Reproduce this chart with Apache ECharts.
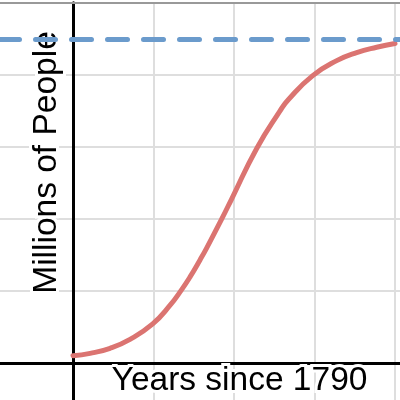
<!DOCTYPE html>
<html>
<head>
<meta charset="utf-8">
<script src="https://cdn.jsdelivr.net/npm/echarts@6/dist/echarts.min.js"></script>
<style>
  html, body { margin: 0; padding: 0; background: #fff; }
  #chart { width: 400px; height: 400px; }
</style>
</head>
<body>
<div id="chart"></div>
<script>
  // years since 1790 and population (millions)
  const years = [0, 10.6, 23, 35.4, 49.5, 60.2, 67.5, 72.7, 78.9, 83, 92.4, 98.6, 114.1, 128.6, 133.7, 148.9, 163.8, 176.2, 188.6, 200];
  const population = [5.3, 6.9, 10.4, 16.6, 27.3, 40.1, 51.1, 59.9, 71.7, 79.9, 100.1, 114.1, 149.0, 175.1, 182.8, 199.5, 209.9, 215.5, 219.2, 221.8];
  // carrying capacity (the dashed line)
  const capacity = 225;
  const xTitle = 'Years since 1790';
  const yTitle = 'Millions of People';

  const points = years.map((x, i) => [x, population[i]]);
  const font = '33.5px "Liberation Sans", Arial, sans-serif';

  // hidden axis, only line + grid
  function valueAxis(extra) {
    return Object.assign({
      type: 'value',
      min: -50,
      max: 250,
      interval: 50,
      axisTick: { show: false },
      axisLabel: { show: false },
      axisLine: { show: true, onZero: true, lineStyle: { color: '#000', width: 3 } },
      splitLine: { show: true, lineStyle: { color: '#dedede', width: 2 } }
    }, extra);
  }

  const chart = echarts.init(document.getElementById('chart'));
  chart.setOption({
    animation: false,
    grid: { left: -7.5, right: -75.5, top: 2.8, bottom: -35.4, outerBoundsMode: 'none' },
    xAxis: [
      valueAxis(),
      // gray border line along the top
      valueAxis({
        position: 'top',
        axisLine: { show: true, onZero: false, lineStyle: { color: '#999', width: 2 } },
        splitLine: { show: false }
      })
    ],
    yAxis: valueAxis(),
    graphic: [
      {
        type: 'text', x: 47, y: 162.5, rotation: Math.PI / 2, z: 1,
        style: { text: yTitle, font: font, fill: '#000', align: 'center', verticalAlign: 'middle',
                 stroke: '#fff', lineWidth: 6, strokeFirst: true }
      },
      {
        type: 'text', x: 239.5, y: 380.5, z: 1,
        style: { text: xTitle, font: font, fill: '#000', align: 'center', verticalAlign: 'middle',
                 stroke: '#fff', lineWidth: 6, strokeFirst: true }
      }
    ],
    series: [{
      type: 'line',
      xAxisIndex: 0,
      z: 3,
      data: points,
      smooth: 0.5,
      symbol: 'none',
      lineStyle: { color: '#db7471', width: 5, cap: 'round' },
      markLine: {
        silent: true,
        symbol: ['none', 'none'],
        label: { show: false },
        lineStyle: { color: '#6b9bcc', width: 5, type: [20, 16], dashOffset: 29, cap: 'round' },
        data: [{ yAxis: capacity }]
      }
    }]
  });
</script>
</body>
</html>
